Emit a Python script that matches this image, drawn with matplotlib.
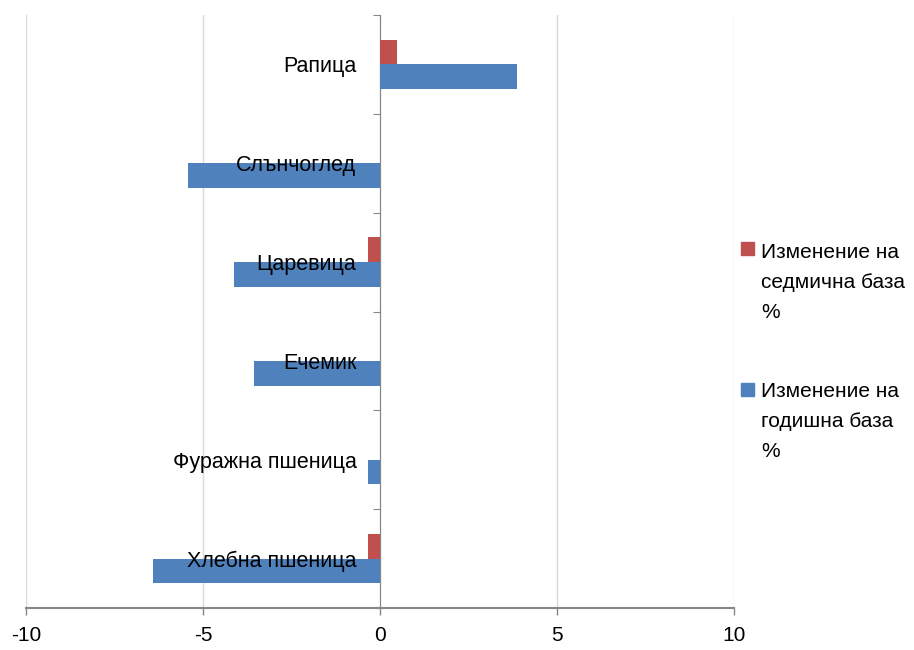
import numpy as np
import matplotlib
matplotlib.use("Agg")
import matplotlib.pyplot as plt
from matplotlib.patches import Rectangle

plt.rcParams['font.family'] = ['Liberation Sans', 'DejaVu Sans']

categories = ["Хлебна пшеница", "Фуражна пшеница", "Ечемик", "Царевица", "Слънчоглед", "Рапица"]
weekly = [-0.34, 0.0, 0.0, -0.34, 0.0, 0.48]
annual = [-6.42, -0.34, -3.56, -4.12, -5.42, 3.86]
series_names = ["Изменение на\nседмична база\n%", "Изменение на\nгодишна база\n%"]
colors = ["#C0504D", "#4F81BD"]

W, H = 914, 650
fig = plt.figure(figsize=(9.14, 6.5), dpi=100)
ax = fig.add_axes([26 / W, 1 - 608 / H, (734 - 26) / W, (608 - 15) / H])

y = np.arange(len(categories))
bh = 0.25
ax.barh(y + bh / 2, weekly, height=bh, color=colors[0], zorder=3)
ax.barh(y - bh / 2, annual, height=bh, color=colors[1], zorder=3)

ax.set_xlim(-10, 10)
ax.set_ylim(-0.5, len(categories) - 0.5)
ax.set_xticks([-10, -5, 0, 5, 10])
ax.set_xticklabels(["-10", "-5", "0", "5", "10"], fontsize=15)
ax.xaxis.grid(True, color="#D9D9D9", linewidth=1, zorder=0)
ax.set_axisbelow(True)

# y axis sits on zero
ax.spines['left'].set_position(('data', 0))
ax.spines['left'].set_color('#868686')
ax.spines['bottom'].set_color('#868686')
ax.spines['bottom'].set_linewidth(1.5)
ax.spines['top'].set_visible(False)
ax.spines['right'].set_visible(False)

ax.set_yticks(np.arange(-0.5, len(categories), 1.0))
ax.set_yticklabels([])
ax.tick_params(axis='y', which='major', length=5, color='#868686', direction='out')
ax.tick_params(axis='x', length=5, color='#868686', width=1, pad=8)

# category names drawn on top of the bars, right-aligned left of zero
for yi, name in zip(y, categories):
    ax.annotate(name, xy=(0, yi), xytext=(-17, 0), textcoords='offset points',
                ha='right', va='center_baseline', fontsize=15.5, zorder=5)

# legend drawn by hand so each square sits on the first line
entries = [(242, 258), (383, 397)]
for (sq_top, base), name, c in zip(entries, series_names, colors):
    fig.patches.append(Rectangle((741 / W, 1 - (sq_top + 13) / H), 13 / W, 13 / H,
                                 transform=fig.transFigure, color=c))
    for k, line in enumerate(name.split("\n")):
        fig.text(761 / W, 1 - (base + 30 * k) / H, line, fontsize=15, va='baseline', ha='left')

fig.savefig("out.png", dpi=100)
